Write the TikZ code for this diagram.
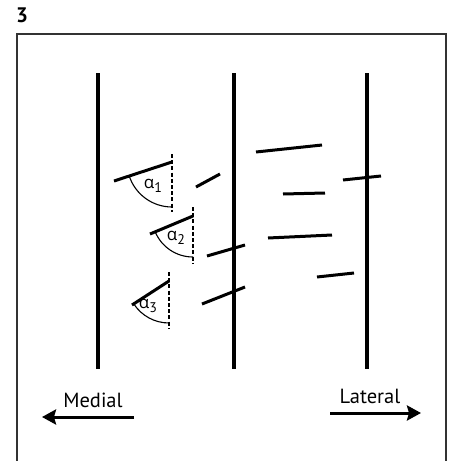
\documentclass[tikz,border=0pt]{standalone}
\usepackage{fontspec}
\setmainfont{PT Sans}
\newfontfamily\greekfont{Open Sans}
\usetikzlibrary{arrows.meta}
\begin{document}
\begin{tikzpicture}[x=1pt,y=-1pt,
  frame/.style={line width=1.3pt, draw=black!80},
  axon/.style={line width=4.4pt},
  fibre/.style={line width=3pt},
  guide/.style={line width=2.6pt, dash pattern=on 4pt off 2.2pt},
  sweep/.style={line width=1.1pt},
  angl/.style={inner sep=0pt, font=\fontsize{17}{17}\selectfont},
  dirarrow/.style={line width=3pt, -{Stealth[length=14pt,width=15pt,inset=2pt]}},
  dirlabel/.style={inner sep=0pt, font=\fontsize{20.5}{20.5}\selectfont}]
\newcommand{\anglab}[1]{{\greekfont α}\raisebox{-4pt}{\fontsize{14}{14}\selectfont #1}}
\useasboundingbox (0,0) rectangle (448,461);
\fill[white] (0,0) rectangle (448,461);
% panel frame, open at the bottom
\begin{scope}
  \clip (0,0) rectangle (448,461);
  \draw[frame] (17,34) rectangle (446,490);
\end{scope}
\node[inner sep=0pt, font=\bfseries\fontsize{21}{21}\selectfont] (fig) at (22,15) {3};

% three vertical reference lines
\foreach \n/\x in {a/98, b/234, c/367} {
  \coordinate (top-\n) at (\x,73);
  \coordinate (bot-\n) at (\x,369);
  \draw[axon] (top-\n) -- (bot-\n);
}

% angle 1 (angles measured with y pointing down the page)
\coordinate (v1) at (172,162);
\coordinate (t1) at (114,181);
\coordinate (d1t) at (172,154);
\coordinate (d1b) at (172,212);
\draw[fibre] (t1) -- (v1);
\draw[guide] (d1t) -- (d1b);
\draw[sweep] (v1) ++(162:45) arc[start angle=162, end angle=90, radius=45];
\node[angl] (al1) at (153,186) {\anglab{1}};

% angle 2
\coordinate (v2) at (193,216);
\coordinate (t2) at (150,234);
\coordinate (d2t) at (193,207);
\coordinate (d2b) at (193,263);
\draw[fibre] (t2) -- (v2);
\draw[guide] (d2t) -- (d2b);
\draw[sweep] (v2) ++(157.3:41) arc[start angle=157.3, end angle=90, radius=41];
\node[angl] (al2) at (176,238) {\anglab{2}};

% angle 3
\coordinate (v3) at (169,281);
\coordinate (t3) at (132,305);
\coordinate (d3t) at (169,272);
\coordinate (d3b) at (169,329);
\draw[fibre] (t3) -- (v3);
\draw[guide] (d3t) -- (d3b);
\draw[sweep] (v3) ++(147:42) arc[start angle=147, end angle=90, radius=42];
\node[angl] (al3) at (148,306) {\anglab{3}};

% short oblique fibres
\foreach \xa/\ya/\xb/\yb [count=\i] in {
  196/187/220/174,
  256/152/322/145,
  343/180/381/176,
  283/194/325/193,
  207/256/245/245,
  268/238/332/235,
  317/277/354/273,
  202/304/245/287} {
  \coordinate (fa-\i) at (\xa,\ya);
  \coordinate (fb-\i) at (\xb,\yb);
  \draw[fibre] (fa-\i) -- (fb-\i);
}

% direction arrows
\coordinate (m0) at (134,417);
\coordinate (m1) at (42,417);
\draw[dirarrow] (m0) -- (m1);
\node[dirlabel] (medial) at (93,400) {Medial};
\coordinate (l0) at (330,413);
\coordinate (l1) at (421,413);
\draw[dirarrow] (l0) -- (l1);
\node[dirlabel] (lateral) at (370,396) {Lateral};
\end{tikzpicture}
\end{document}
